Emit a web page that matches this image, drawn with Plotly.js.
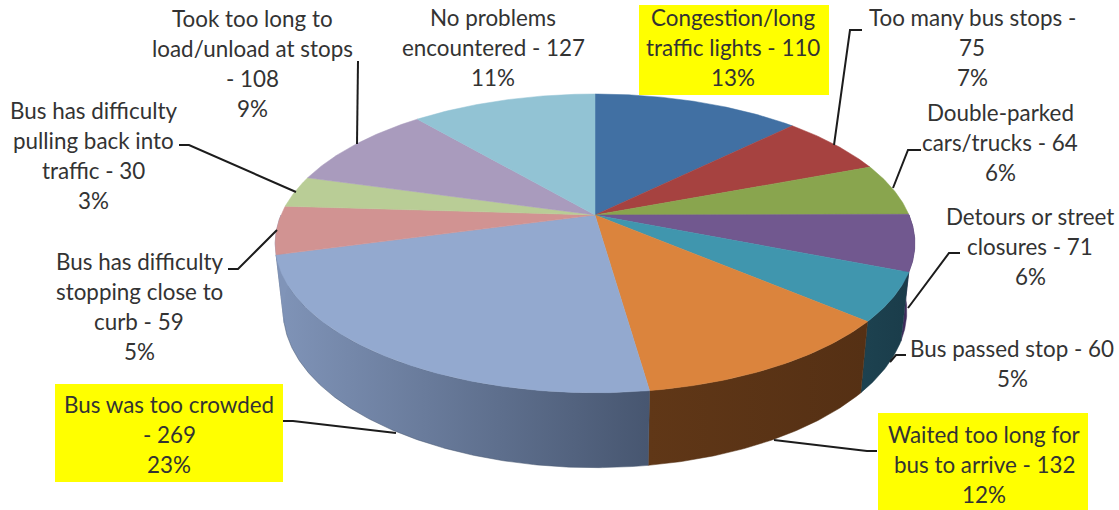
<!DOCTYPE html>
<html><head><meta charset="utf-8">
<script src="https://cdn.plot.ly/plotly-3.0.1.min.js"></script>
<style>html,body{margin:0;padding:0;background:#fff;overflow:hidden}#c{width:1119px;height:510px}</style>
</head><body><div id="c"></div>
<script>
const categories = ["Congestion/long traffic lights","Too many bus stops","Double-parked cars/trucks","Detours or street closures","Bus passed stop","Waited too long for bus to arrive","Bus was too crowded","Bus has difficulty stopping close to curb","Bus has difficulty pulling back into traffic","Took too long to load/unload at stops","No problems encountered"];
const counts = [110,75,64,71,60,132,269,59,30,108,127];
const shares = [12.6,6.6,5.7,6.1,5.2,11.5,23.0,5.2,3.4,9.4,11.2];
const topColors = ["#4170a3","#a64240","#89a54e","#71588f","#4096ae","#db843d","#93a9cf","#d19392","#b9cd96","#a99bbd","#92c3d4"];
const wallStart = [null,null,null,"#3f2c5c","#1d4250","#603717","#8094b8","#8094b8",null,null,null];
const wallEnd   = [null,null,null,"#3f2c5c","#1a3c4a","#553014","#475670","#8094b8",null,null,null];
const labelLines = [
 ["Congestion/long","traffic lights - 110","13%"],
 ["Too many bus stops -","75","7%"],
 ["Double-parked","cars/trucks - 64","6%"],
 ["Detours or street","closures - 71","6%"],
 ["Bus passed stop - 60","5%"],
 ["Waited too long for","bus to arrive - 132","12%"],
 ["Bus was too crowded","- 269","23%"],
 ["Bus has difficulty","stopping close to","curb - 59","5%"],
 ["Bus has difficulty","pulling back into","traffic - 30","3%"],
 ["Took too long to","load/unload at stops","- 108","9%"],
 ["No problems","encountered - 127","11%"]];
const labelX = [733,972,1000,1030,1012,984,169,139,93,252,493];
const labelY = [47,47,142,246,363,464,434,306,155,63,47];
const leaderX = [null,[862,850,834],[921,908,893],[960,949,908],[906,896,890],[877,867,774],[283,293,396],[228,238,277],[179,189,296],[358,357],null];
const leaderY = [null,[30,30,145],[150,150,188],[253,253,308],[355,355,362],[451,451,440],[421,421,433],[269,269,230],[145,145,192],[61,144],null];
const boxes = [[639,5,829,95],[55,384,283,482],[878,413,1088,510]];

// projection of the tilted disc onto the page
const cx=595, cy=215, a=314, c=144, p=0.19, depth=66, sx=0.975, sy=1.05;
const lineGap=30;
const rimTop = t => { const u=Math.sin(t), v=Math.cos(t), w=1+p*v; return [a*u/w, -c*v/w]; };
const pTop = t => { const [X,Y]=rimTop(t); return [cx+X, cy+Y]; };
const pBot = t => { const [X,Y]=rimTop(t); return [cx+sx*X, cy+sy*Y+depth]; };
const rad = d => d*Math.PI/180;
const total = shares.reduce((s,v)=>s+v,0);
let acc=0;
const spans = shares.map(v=>{const s=acc; acc+=v; return [s/total*360, acc/total*360];});

function arc(fn,d0,d1){ const n=Math.max(2,Math.ceil(Math.abs(d1-d0))*2), o=[]; for(let i=0;i<=n;i++) o.push(fn(rad(d0+(d1-d0)*i/n))); return o; }

const traces=[];
spans.forEach(([s,e],i)=>{
  if(!wallStart[i]) return;
  const d0=Math.max(s,90), d1=Math.min(e,270);
  if(d1<=d0) return;
  const pts=arc(pTop,d0,d1).concat(arc(pBot,d1,d0));
  pts.push(pts[0]);
  traces.push({type:"scatter",mode:"lines",x:pts.map(q=>q[0]),y:pts.map(q=>q[1]),fill:"toself",
    line:{width:0.5,color:wallEnd[i]},fillcolor:wallStart[i],
    fillgradient:{type:"horizontal",colorscale:[[0,wallStart[i]],[1,wallEnd[i]]]},
    hoverinfo:"skip",showlegend:false});
});
spans.forEach(([s,e],i)=>{
  const pts=[[cx,cy]].concat(arc(pTop,s,e)); pts.push([cx,cy]);
  traces.push({type:"scatter",mode:"lines",name:categories[i],x:pts.map(q=>q[0]),y:pts.map(q=>q[1]),fill:"toself",
    line:{width:0.5,color:topColors[i]},fillcolor:topColors[i],
    text:categories[i]+" - "+counts[i],hoverinfo:"text",showlegend:false});
});
leaderX.forEach((lx,i)=>{ if(!lx) return;
  traces.push({type:"scatter",mode:"lines",x:lx,y:leaderY[i],line:{width:2,color:"#1c1c1c"},hoverinfo:"skip",showlegend:false});
});

const annotations = [];
labelLines.forEach((lines,i)=>lines.forEach((ln,j)=>annotations.push({x:labelX[i],y:labelY[i]+(j-(lines.length-1)/2)*lineGap,xref:"x",yref:"y",text:ln,showarrow:false,
  align:"center",xanchor:"center",yanchor:"middle",font:{family:"Lato, sans-serif",size:22.4,color:"#333"}})));
const shapes = boxes.map(b=>({type:"rect",layer:"below",xref:"x",yref:"y",x0:b[0],y0:b[1],x1:b[2],y1:b[3],fillcolor:"#ffff00",line:{width:0}}));

Plotly.newPlot("c",traces,{
  width:1119,height:510,margin:{l:0,r:0,t:0,b:0},paper_bgcolor:"#fff",plot_bgcolor:"#fff",showlegend:false,
  xaxis:{range:[0,1119],visible:false,fixedrange:true},
  yaxis:{range:[510,0],visible:false,fixedrange:true},
  annotations,shapes
},{displayModeBar:false});
</script></body></html>
